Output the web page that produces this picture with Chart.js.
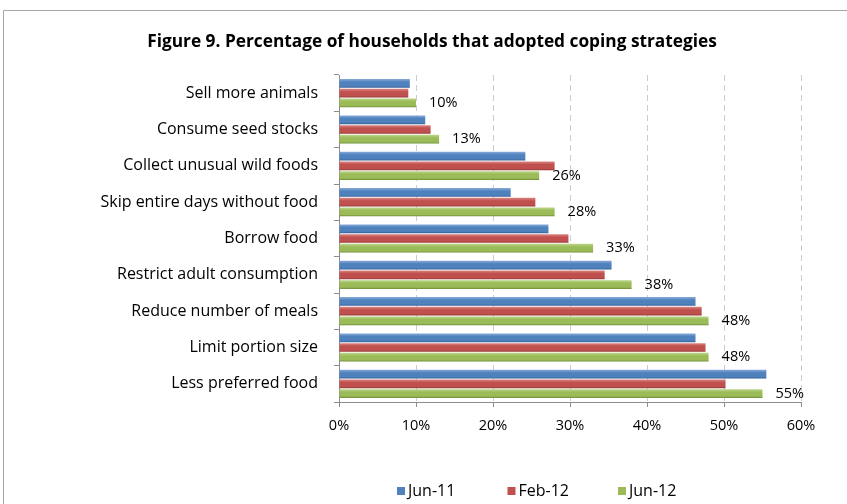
<!DOCTYPE html>
<html>
<head>
<meta charset="utf-8">
<title>Figure 9</title>
<script src="https://cdn.jsdelivr.net/npm/chart.js@4.4.1/dist/chart.umd.min.js"></script>
<style>
  html, body { margin: 0; padding: 0; background: #fff; }
</style>
</head>
<body>
<canvas id="chart" width="847" height="504"></canvas>
<script>
// Chart data
const titleText = 'Figure 9. Percentage of households that adopted coping strategies';
const categories = [
  'Sell more animals',
  'Consume seed stocks',
  'Collect unusual wild foods',
  'Skip entire days without food',
  'Borrow food',
  'Restrict adult consumption',
  'Reduce number of meals',
  'Limit portion size',
  'Less preferred food'
];
const seriesNames = ['Jun-11', 'Feb-12', 'Jun-12'];
const jun11 = [9.2, 11.2, 24.2, 22.3, 27.2, 35.4, 46.3, 46.3, 55.5];
const feb12 = [9.0, 11.9, 28.0, 25.5, 29.8, 34.5, 47.1, 47.6, 50.2];
const jun12 = [10, 13, 26, 28, 33, 38, 48, 48, 55];
const xTickValues = [0, 10, 20, 30, 40, 50, 60];

// Styles
const fontFamily = '"Open Sans", "Noto Sans", sans-serif';
const baseColors = ['#4F81BD', '#C0504D', '#9BBB59'];
const lightColors = ['#86AADA', '#DC8684', '#BCD68A'];
const darkColors = ['#35609A', '#923937', '#718F37'];
const categoryPct = 0.8;
const barPct = 0.9;

// Cylinder-like shading for each bar, worked out from the category scale
function barFill(context) {
  const chart = context.chart;
  const i = context.datasetIndex;
  const yScale = chart.scales.y;
  if (context.type !== 'data' || !yScale || !yScale.height) return baseColors[i];
  const slot = (yScale.height / categories.length) * categoryPct / 3;
  const center = yScale.getPixelForValue(context.dataIndex) - slot * 1.5 + slot * (i + 0.5);
  const half = slot * barPct / 2;
  const g = chart.ctx.createLinearGradient(0, center - half, 0, center + half);
  g.addColorStop(0, lightColors[i]);
  g.addColorStop(0.35, baseColors[i]);
  g.addColorStop(0.8, baseColors[i]);
  g.addColorStop(1, darkColors[i]);
  return g;
}

// Frame and title
const framePlugin = {
  id: 'frame',
  beforeDraw(chart) {
    const ctx = chart.ctx;
    ctx.save();
    ctx.fillStyle = '#fff';
    ctx.fillRect(0, 0, chart.width, chart.height);
    ctx.strokeStyle = '#a6a6a6';
    ctx.lineWidth = 1;
    ctx.beginPath();
    ctx.moveTo(3.5, chart.height);
    ctx.lineTo(3.5, 10.5);
    ctx.lineTo(chart.width, 10.5);
    ctx.stroke();
    ctx.fillStyle = '#000';
    ctx.font = 'bold 17.3px ' + fontFamily;
    ctx.textAlign = 'center';
    ctx.textBaseline = 'middle';
    ctx.fillText(titleText, 432, 42);
    ctx.restore();
  }
};

// Value labels next to the Jun-12 bars
const valueLabels = {
  id: 'valueLabels',
  afterDatasetsDraw(chart) {
    const ctx = chart.ctx;
    const meta = chart.getDatasetMeta(2);
    ctx.save();
    ctx.fillStyle = '#000';
    ctx.font = '14.5px ' + fontFamily;
    ctx.textAlign = 'left';
    ctx.textBaseline = 'middle';
    meta.data.forEach((bar, idx) => {
      ctx.fillText(jun12[idx] + '%', bar.x + 13, bar.y);
    });
    ctx.restore();
  }
};

// Legend drawn under the axis
const legendPlugin = {
  id: 'bottomLegend',
  afterDraw(chart) {
    const ctx = chart.ctx;
    ctx.save();
    ctx.font = '16px ' + fontFamily;
    ctx.textAlign = 'left';
    ctx.textBaseline = 'middle';
    chart.data.datasets.forEach((ds, i) => {
      const x = 397 + i * 110.5;
      ctx.fillStyle = baseColors[i];
      ctx.fillRect(x, 487, 8, 8);
      ctx.fillStyle = '#000';
      ctx.fillText(ds.label, x + 11, 491);
    });
    ctx.restore();
  }
};

const seriesValues = [jun11, feb12, jun12];

new Chart(document.getElementById('chart'), {
  type: 'bar',
  data: {
    labels: categories,
    datasets: seriesNames.map((name, i) => ({
      label: name,
      data: seriesValues[i],
      backgroundColor: barFill,
      borderWidth: 0,
      categoryPercentage: categoryPct,
      barPercentage: barPct
    }))
  },
  options: {
    indexAxis: 'y',
    responsive: false,
    animation: false,
    layout: { padding: { top: 75, right: 46, bottom: 62, left: 0 } },
    plugins: {
      legend: { display: false },
      title: { display: false },
      tooltip: { enabled: false }
    },
    scales: {
      x: {
        min: 0,
        max: 60,
        afterBuildTicks(scale) {
          scale.ticks = xTickValues.map((v) => ({ value: v }));
        },
        afterFit(scale) { scale.height = 40; },
        grid: {
          color: '#cccccc',
          tickColor: '#8c8c8c',
          tickLength: 5
        },
        border: { color: '#8c8c8c', dash: [6, 4] },
        ticks: {
          color: '#000',
          padding: 10,
          font: { family: fontFamily, size: 14.5 },
          callback: (v) => v + '%'
        }
      },
      y: {
        afterFit(scale) { scale.width = 339; },
        grid: {
          drawOnChartArea: false,
          tickColor: '#8c8c8c',
          tickLength: 5
        },
        border: { color: '#8c8c8c' },
        ticks: {
          color: '#000',
          padding: 16,
          font: { family: fontFamily, size: 16 }
        }
      }
    }
  },
  plugins: [framePlugin, valueLabels, legendPlugin]
});
</script>
</body>
</html>
